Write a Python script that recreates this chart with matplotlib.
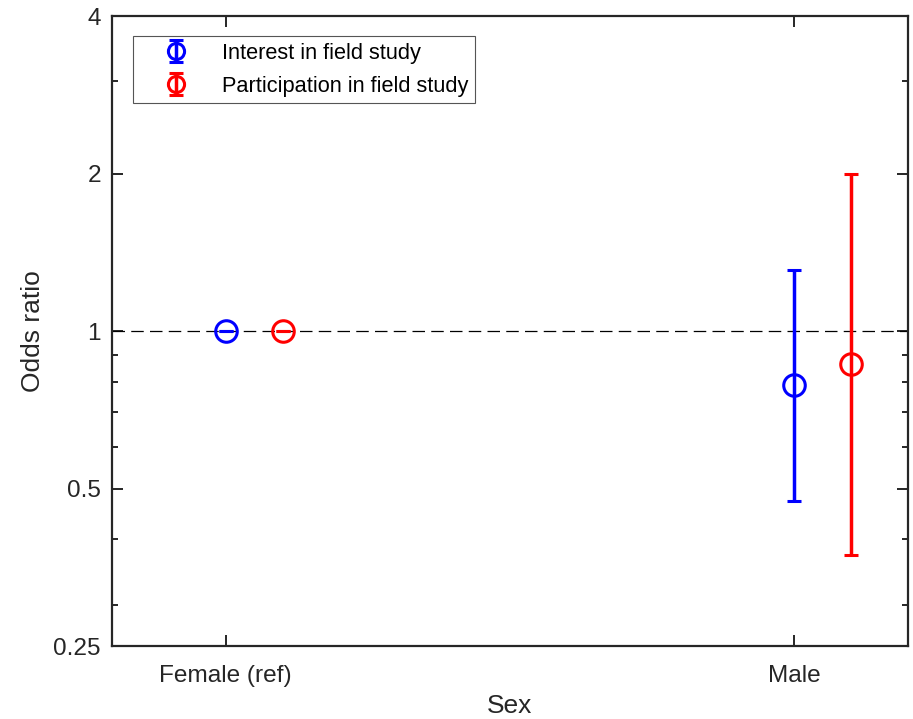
import numpy as np
import matplotlib
matplotlib.use("Agg")
import matplotlib.pyplot as plt
from matplotlib.ticker import FixedLocator, NullFormatter

# Odds ratios by sex (female is the reference group)
categories = ["Female (ref)", "Male"]
interest_or = [1.0, 0.79]
interest_lo = [1.0, 0.473]
interest_hi = [1.0, 1.31]
particip_or = [1.0, 0.865]
particip_lo = [1.0, 0.373]
particip_hi = [1.0, 2.0]

plt.rcParams['font.family'] = ['Liberation Sans', 'DejaVu Sans']
axis_color = '#262626'

fig = plt.figure(figsize=(9.13, 7.19), dpi=100)
ax = fig.add_axes([0.1227, 0.1015, 0.8718, 0.8762])

x = np.arange(1, len(categories) + 1)
offset = 0.1


def add_series(xpos, est, lo, hi, color, label):
    est = np.array(est)
    yerr = [est - np.array(lo), np.array(hi) - est]
    ax.errorbar(xpos, est, yerr=yerr, fmt='o', color=color, ecolor=color,
                mfc='none', mec=color, ms=15.5, mew=2.2, elinewidth=2.5,
                capsize=5, capthick=2.5, label=label, zorder=3)


ax.axhline(1, color='k', lw=0.9, ls=(0, (10, 5)), zorder=2)
add_series(x, interest_or, interest_lo, interest_hi, 'blue', 'Interest in field study')
add_series(x + offset, particip_or, particip_lo, particip_hi, 'red', 'Participation in field study')

ax.set_yscale('log')
ax.set_ylim(0.25, 4)
ax.set_xlim(0.8, 2.2)
ax.yaxis.set_major_locator(FixedLocator([0.25, 0.5, 1, 2, 4]))
ax.yaxis.set_minor_locator(FixedLocator([0.3, 0.4, 0.6, 0.7, 0.8, 0.9, 3]))
ax.yaxis.set_minor_formatter(NullFormatter())
ax.set_yticklabels(['0.25', '0.5', '1', '2', '4'])
ax.set_xticks(x)
ax.set_xticklabels(categories)

ax.tick_params(axis='both', which='major', direction='in', length=8, width=1.4,
               colors=axis_color, labelsize=17.6, top=True, right=True, pad=8)
ax.tick_params(axis='both', which='minor', direction='in', length=4, width=1.4,
               colors=axis_color, top=True, right=True)
ax.tick_params(axis='x', which='major', pad=14)
for sp in ax.spines.values():
    sp.set_linewidth(1.6)
    sp.set_color(axis_color)

ax.set_xlabel('Sex', fontsize=19, color=axis_color, labelpad=5)
ax.set_ylabel('Odds ratio', fontsize=19, color=axis_color, labelpad=6)

leg = ax.legend(loc='upper left', bbox_to_anchor=(0.026, 0.968), borderaxespad=0,
                fontsize=15.7, fancybox=False, framealpha=1, edgecolor='#555555',
                handlelength=3.4, handletextpad=0.4, labelspacing=0.55,
                borderpad=0.3, markerscale=0.75)
leg.get_frame().set_linewidth(0.8)

fig.savefig('out.png', dpi=100)
